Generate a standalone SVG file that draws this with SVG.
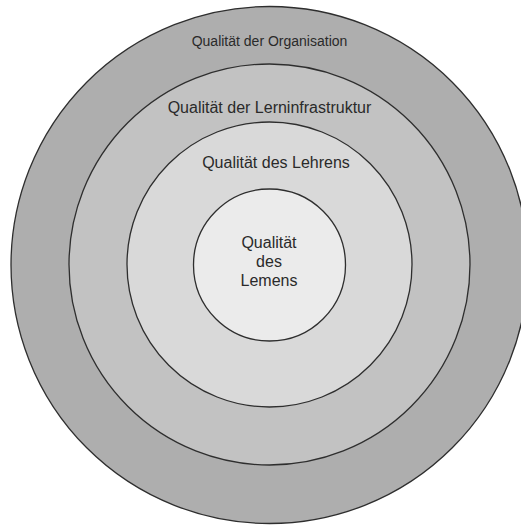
<svg xmlns="http://www.w3.org/2000/svg" width="521" height="526" viewBox="0 0 521 526">
  <style>
    .ring { stroke: #2e2e2e; stroke-width: 1.3; }
    .lbl { font-family: "Liberation Sans", Arial, sans-serif; fill: #2a2a2a; text-anchor: middle; }
  </style>
  <rect width="521" height="526" fill="#ffffff"/>
  <g id="organisation">
    <circle class="ring" cx="269.5" cy="265" r="258.5" fill="#aeaeae"/>
    <text class="lbl" x="269.5" y="46" font-size="14">Qualität der Organisation</text>
  </g>
  <g id="lerninfrastruktur">
    <circle class="ring" cx="269.5" cy="264.5" r="200.5" fill="#c2c2c2"/>
    <text class="lbl" x="269.5" y="113" font-size="16">Qualität der Lerninfrastruktur</text>
  </g>
  <g id="lehren">
    <circle class="ring" cx="269.5" cy="264.5" r="142.5" fill="#d9d9d9"/>
    <text class="lbl" x="276" y="168" font-size="16">Qualität des Lehrens</text>
  </g>
  <g id="lernen">
    <circle class="ring" cx="269.5" cy="265" r="76" fill="#ebebeb"/>
    <text class="lbl" font-size="16"><tspan x="269" y="248">Qualität</tspan><tspan x="269" y="267">des</tspan><tspan x="269" y="286">Lemens</tspan></text>
  </g>
  <g id="connectors"/>
</svg>
